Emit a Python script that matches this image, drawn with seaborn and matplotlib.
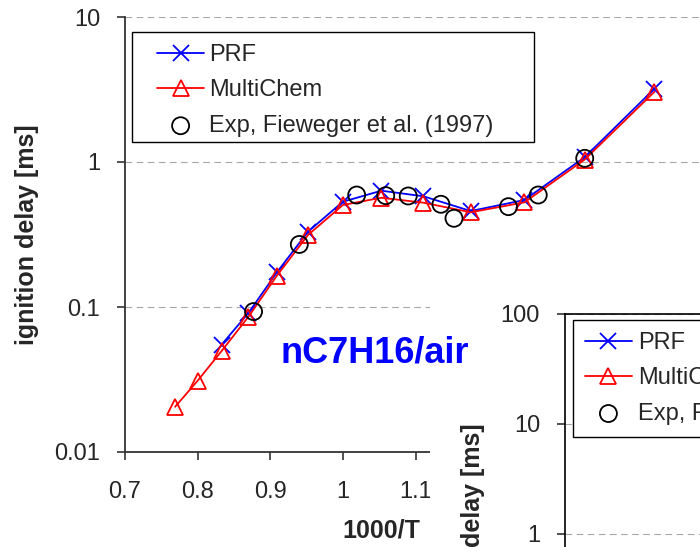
import numpy as np
import pandas as pd
import matplotlib
matplotlib.use('Agg')
import matplotlib.pyplot as plt
from matplotlib.patches import Rectangle
from matplotlib.ticker import NullLocator
import seaborn as sns

# ignition delay (ms) vs 1000/T, nC7H16/air
inv_T_prf = [0.833, 0.870, 0.909, 0.952, 1.000, 1.053, 1.111, 1.176, 1.250, 1.333, 1.429]
tau_prf = [0.055, 0.091, 0.173, 0.331, 0.532, 0.634, 0.58, 0.459, 0.547, 1.08, 3.2]

inv_T_multi = [0.769, 0.800, 0.833, 0.870, 0.909, 0.952, 1.000, 1.053, 1.111, 1.176, 1.250, 1.333, 1.429]
tau_multi = [0.0205, 0.031, 0.0497, 0.0857, 0.164, 0.314, 0.505, 0.567, 0.524, 0.45, 0.527, 1.04, 3.05]

inv_T_exp = [0.877, 0.940, 1.019, 1.059, 1.090, 1.135, 1.153, 1.228, 1.269, 1.333]
tau_exp = [0.093, 0.27, 0.592, 0.586, 0.583, 0.511, 0.409, 0.492, 0.592, 1.06]

# only the ticks that are not hidden by the second chart
x_ticks = [0.7, 0.8, 0.9, 1.0, 1.1]
x_tick_labels = ['0.7', '0.8', '0.9', '1', '1.1']
y_ticks = [0.01, 0.1, 1, 10]
y_tick_labels = ['0.01', '0.1', '1', '10']
y2_ticks = [1, 10, 100]
y2_tick_labels = ['1', '10', '100']

labels = ['PRF', 'MultiChem', 'Exp, Fieweger et al. (1997)']

prf = pd.DataFrame({'x': inv_T_prf, 'y': tau_prf})
multi = pd.DataFrame({'x': inv_T_multi, 'y': tau_multi})
exp = pd.DataFrame({'x': inv_T_exp, 'y': tau_exp})

sns.set_style('white')
plt.rcParams['font.family'] = ['Liberation Sans', 'DejaVu Sans']

W, H = 700, 547
fig = plt.figure(figsize=(7, 5.47), dpi=100)

def fx(px):
    return px / W

def fy(py):
    return 1 - py / H

# main chart
ax = fig.add_axes([fx(125), fy(452), 581 / W, 435 / H])
ax.set_zorder(0)

sns.lineplot(data=prf, x='x', y='y', ax=ax, color='#0000ff', lw=1.3, marker='x',
             markersize=12, markeredgewidth=1.3, markeredgecolor='#0000ff', label=labels[0])
sns.lineplot(data=multi, x='x', y='y', ax=ax, color='#ff0000', lw=1.3, marker='^',
             markersize=11, markeredgewidth=1.3, markeredgecolor='#ff0000',
             markerfacecolor='none', label=labels[1])
sns.scatterplot(data=exp, x='x', y='y', ax=ax, marker='o', s=150, facecolor='none',
                edgecolor='black', linewidth=1.3, label=labels[2], zorder=5)

ax.set_yscale('log')
ax.set_xlim(0.7, 1.5)
ax.set_ylim(0.01, 10)
ax.set_xticks(x_ticks)
ax.set_xticklabels(x_tick_labels)
ax.set_yticks(y_ticks)
ax.set_yticklabels(y_tick_labels)
ax.yaxis.set_minor_locator(NullLocator())
ax.tick_params(axis='both', direction='out', length=6, width=1.2, pad=12,
               labelsize=17, color='#333333', bottom=True, left=True)
ax.tick_params(axis='x', pad=15)
ax.yaxis.grid(True, color='#a6a6a6', linestyle=(0, (6, 4)), linewidth=0.8)
ax.xaxis.grid(False)
for s in ['top', 'right']:
    ax.spines[s].set_visible(False)
for s in ['left', 'bottom']:
    ax.spines[s].set_color('#333333')
    ax.spines[s].set_linewidth(1.3)

ax.set_ylabel('ignition delay [ms]', fontsize=18, fontweight='bold', labelpad=11)
ax.set_xlabel('1000/T', fontsize=18, fontweight='bold')
ax.xaxis.set_label_coords((381 - 125) / 581, -(519 - 452) / 435)

handles, _ = ax.get_legend_handles_labels()
ax.legend(handles, labels, loc='upper left', bbox_to_anchor=(fx(157), fy(44)),
          bbox_transform=fig.transFigure, frameon=False, borderpad=0, borderaxespad=0,
          fontsize=17, handlelength=2.0, handletextpad=0.2, labelspacing=0.57)
ax.add_patch(Rectangle((fx(132), fy(142)), 402 / W, 110 / H, transform=fig.transFigure,
                       facecolor='white', edgecolor='black', lw=1, zorder=4, clip_on=False))

# background of the second chart
fig.add_artist(Rectangle((fx(430), 0), (W - 430) / W, fy(296), transform=fig.transFigure,
                         facecolor='white', edgecolor='none', zorder=1))

# second chart, only its upper left corner is in view
ax2 = fig.add_axes([fx(565), fy(754), 300 / W, 440 / H])
ax2.set_zorder(2)
ax2.set_yscale('log')
ax2.set_ylim(0.01, 100)
ax2.set_xlim(0, 1)
ax2.set_yticks(y2_ticks)
ax2.set_yticklabels(y2_tick_labels)
ax2.yaxis.set_minor_locator(NullLocator())
ax2.set_xticks([])
ax2.tick_params(axis='y', direction='out', length=6, width=1.2, pad=12,
                labelsize=17, color='#333333', left=True)
ax2.yaxis.grid(True, color='#a6a6a6', linestyle=(0, (6, 4)), linewidth=0.8)
for s in ['top', 'left']:
    ax2.spines[s].set_color('black')
    ax2.spines[s].set_linewidth(1.2)
ax2.set_ylabel('ignition delay [ms]', fontsize=18, fontweight='bold', labelpad=11)
leg2 = ax2.legend(handles, labels, loc='upper left', bbox_to_anchor=(fx(573), fy(320)),
                  bbox_transform=fig.transFigure, frameon=True, fancybox=False,
                  framealpha=1, edgecolor='black', borderpad=0.5, borderaxespad=0,
                  fontsize=17, handlelength=2.0, handletextpad=0.25, labelspacing=0.57)
leg2.get_frame().set_linewidth(1)

fig.text(fx(374.5), fy(353), 'nC7H16/air', color='#0000ff', fontsize=26,
         fontweight='bold', ha='center', va='center', zorder=5)

fig.savefig('out.png', dpi=100)
